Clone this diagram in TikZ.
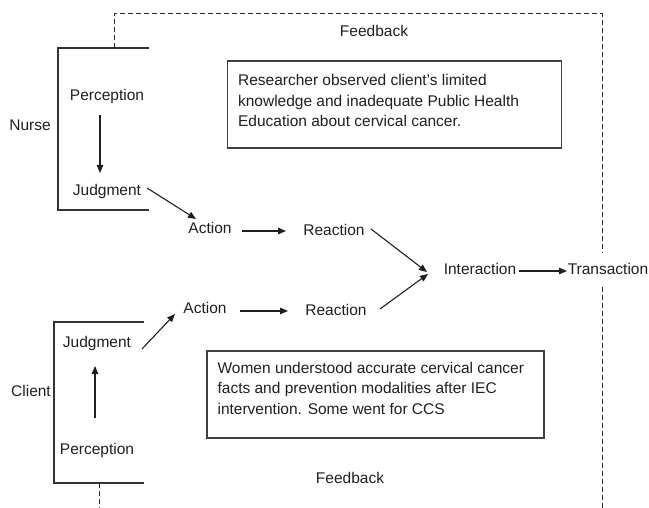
\documentclass[tikz,border=0pt]{standalone}
\usepackage{fontspec}
\setmainfont{Liberation Sans}
\usetikzlibrary{arrows.meta,calc}
\begin{document}
\begin{tikzpicture}[x=1pt,y=-1pt,
  txt/.style={inner sep=0pt,text height=11pt,text depth=3.5pt,font=\fontsize{15.5}{20}\selectfont,text=black!88},
  para/.style={inner sep=0pt,align=left,font=\fontsize{15.5}{20.5}\selectfont,text=black!88},
  arr/.style={-{Triangle[length=8pt,width=6.5pt]},line width=1.1pt,draw=black!88},
  bracket/.style={line width=1.2pt,draw=black!80},
  fbline/.style={dashed,dash pattern=on 5pt off 3pt,line width=1pt,draw=black!85},
  boxst/.style={draw=black!75,line width=1.2pt,minimum width=334pt,minimum height=87pt,inner sep=0pt}]
\useasboundingbox (0,0) rectangle (649,508);

% labels
\node[txt] (nurse) at (30,127) {Nurse};
\node[txt] (client) at (31,393) {Client};
\node[txt] (nP) at (107,97) {Perception};
\node[txt] (nJ) at (107,192) {Judgment};
\node[txt] (nA1) at (210,230) {Action};
\node[txt] (nR1) at (334,232) {Reaction};
\node[txt] (nI) at (480,271) {Interaction};
\node[txt] (nT) at (608,271) {Transaction};
\node[txt] (cJ) at (97,344) {Judgment};
\node[txt] (cP) at (97,451) {Perception};
\node[txt] (nA2) at (205,310) {Action};
\node[txt] (nR2) at (336,312) {Reaction};
\node[txt] (fb1) at (374,33) {Feedback};
\node[txt] (fb2) at (350,480) {Feedback};

% brackets
\draw[bracket] (149,48) -- (58,48) -- (58,210) -- (149,210);
\draw[bracket] (144,322) -- (54,322) -- (54,483) -- (144,483);

% feedback dashed loop
\coordinate (d1) at (114,48);
\coordinate (d2) at (602,253);
\coordinate (d3) at (602,287);
\coordinate (d4) at (602,508);
\coordinate (d5) at (99,483);
\coordinate (d6) at (99,508);
\draw[fbline] (d1) -- (114,14) -- (602,14) -- (d2);
\draw[fbline] (d3) -- (d4);
\draw[fbline] (d5) -- (d6);

% boxes
\node[boxst] (b1) at (394.5,104.5) {};
\node[para,anchor=north west] (t1) at ($(b1.north west)+(11,14)$) {Researcher observed client’s limited\\knowledge and inadequate Public Health\\Education about cervical cancer.};
\node[boxst,minimum width=337pt] (b2) at (375.5,394.5) {};
\node[para,anchor=north west] (t2) at ($(b2.north west)+(11,11.5)$) {Women understood accurate cervical cancer\\facts and prevention modalities after IEC\\intervention. Some went for CCS};

% arrows
\draw[arr] ($(nP.center)+(-7,18)$) -- ($(nJ.center)+(-7,-19)$);
\draw[arr] ($(nJ.center)+(40,-4)$) -- ($(nA1.center)+(-14,-11)$);
\draw[arr] ($(nA1.center)+(32,1)$) -- ($(nR1.center)+(-48,-1)$);
\draw[arr] ($(nR1.center)+(37,-3)$) -- ($(nI.center)+(-53,1)$);
\draw[arr] ($(nR2.center)+(44,-3)$) -- ($(nI.center)+(-52,3)$);
\draw[arr] ($(nI.center)+(39,0)$) -- ($(nT.center)+(-41,0)$);
\draw[arr] ($(cJ.center)+(45,5)$) -- ($(nA2.center)+(-30,4)$);
\draw[arr] ($(cP.center)+(-2,-33)$) -- ($(cJ.center)+(-2,22)$);
\draw[arr] ($(nA2.center)+(35,1)$) -- ($(nR2.center)+(-48,-1)$);
\end{tikzpicture}
\end{document}
